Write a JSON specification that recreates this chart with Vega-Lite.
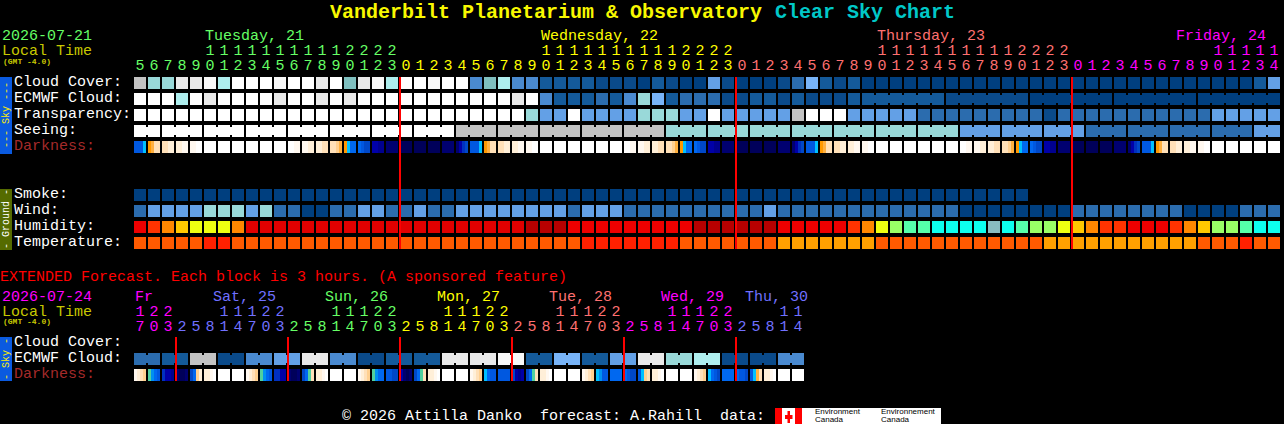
{"$schema":"https://vega.github.io/schema/vega-lite/v6.json","width":1284,"height":424,"padding":0,"autosize":{"type":"fit","contains":"padding"},"background":"#000000","config":{"view":{"stroke":null}},
"datasets":{
"bars":[{"c":-10,"c2":-9.142857,"r":-0.375,"r2":4.4375,"v":"sky"},{"c":-10,"c2":-9.142857,"r":6.625,"r2":10.4375,"v":"ground"},{"c":-10,"c2":-9.142857,"r":15.875,"r2":18.625,"v":"sky"},{"c":45.357143,"c2":57.214286,"r":20.3125,"r2":21.3125,"v":"logo"},{"c":45.357143,"c2":45.857143,"r":20.3125,"r2":21.3125,"v":"flag"},{"c":46.785714,"c2":47.285714,"r":20.3125,"r2":21.3125,"v":"flag"},{"c":46.25,"c2":46.428571,"r":20.5,"r2":21.25,"v":"flag"},{"c":46.071429,"c2":46.607143,"r":20.75,"r2":21,"v":"flag"}],
"rules":[{"c":19,"r":-0.375,"r2":10.375,"v":"mid"},{"c":43,"r":-0.375,"r2":10.375,"v":"mid"},{"c":67,"r":-0.375,"r2":10.375,"v":"mid"},{"c":3,"r":15.875,"r2":18.625,"v":"mid"},{"c":11,"r":15.875,"r2":18.625,"v":"mid"},{"c":19,"r":15.875,"r2":18.625,"v":"mid"},{"c":27,"r":15.875,"r2":18.625,"v":"mid"},{"c":35,"r":15.875,"r2":18.625,"v":"mid"},{"c":43,"r":15.875,"r2":18.625,"v":"mid"}],
"cells":[
{"c":0,"r":0,"v":"c10"},{"c":1,"r":0,"v":"c8"},{"c":2,"r":0,"v":"c8"},{"c":3,"r":0,"v":"c11"},{"c":4,"r":0,"v":"c11"},{"c":5,"r":0,"v":"c12"},{"c":6,"r":0,"v":"c9"},{"c":7,"r":0,"v":"c13"},{"c":8,"r":0,"v":"c13"},{"c":9,"r":0,"v":"c13"},{"c":10,"r":0,"v":"c12"},{"c":11,"r":0,"v":"c13"},{"c":12,"r":0,"v":"c13"},{"c":13,"r":0,"v":"c11"},{"c":14,"r":0,"v":"c13"},{"c":15,"r":0,"v":"c7"},{"c":16,"r":0,"v":"c11"},{"c":17,"r":0,"v":"c12"},{"c":18,"r":0,"v":"c9"},{"c":19,"r":0,"v":"c13"},{"c":20,"r":0,"v":"c13"},{"c":21,"r":0,"v":"c12"},{"c":22,"r":0,"v":"c13"},{"c":23,"r":0,"v":"c13"},{"c":24,"r":0,"v":"c4"},{"c":25,"r":0,"v":"c7"},{"c":26,"r":0,"v":"c9"},{"c":27,"r":0,"v":"c4"},{"c":28,"r":0,"v":"c4"},{"c":29,"r":0,"v":"c2"},{"c":30,"r":0,"v":"c2"},{"c":31,"r":0,"v":"c2"},{"c":32,"r":0,"v":"c2"},{"c":33,"r":0,"v":"c1"},{"c":34,"r":0,"v":"c1"},{"c":35,"r":0,"v":"c1"},{"c":36,"r":0,"v":"c0"},{"c":37,"r":0,"v":"c2"},{"c":38,"r":0,"v":"c1"},{"c":39,"r":0,"v":"c0"},{"c":40,"r":0,"v":"c0"},{"c":41,"r":0,"v":"c5"},{"c":42,"r":0,"v":"c1"},{"c":43,"r":0,"v":"c0"},{"c":44,"r":0,"v":"c0"},{"c":45,"r":0,"v":"c0"},{"c":46,"r":0,"v":"c1"},{"c":47,"r":0,"v":"c3"},{"c":48,"r":0,"v":"c6"},{"c":49,"r":0,"v":"c2"},{"c":50,"r":0,"v":"c1"},{"c":51,"r":0,"v":"c2"},{"c":52,"r":0,"v":"c0"},{"c":53,"r":0,"v":"c0"},{"c":54,"r":0,"v":"c0"},{"c":55,"r":0,"v":"c0"},{"c":56,"r":0,"v":"c0"},{"c":57,"r":0,"v":"c0"},{"c":58,"r":0,"v":"c0"},{"c":59,"r":0,"v":"c0"},{"c":60,"r":0,"v":"c0"},{"c":61,"r":0,"v":"c0"},{"c":62,"r":0,"v":"c0"},{"c":63,"r":0,"v":"c0"},{"c":64,"r":0,"v":"c0"},{"c":65,"r":0,"v":"c0"},{"c":66,"r":0,"v":"c0"},{"c":67,"r":0,"v":"c0"},{"c":68,"r":0,"v":"c0"},{"c":69,"r":0,"v":"c0"},{"c":70,"r":0,"v":"c0"},{"c":71,"r":0,"v":"c0"},{"c":72,"r":0,"v":"c0"},{"c":73,"r":0,"v":"c0"},{"c":74,"r":0,"v":"c0"},{"c":75,"r":0,"v":"c0"},{"c":76,"r":0,"v":"c0"},{"c":77,"r":0,"v":"c0"},{"c":78,"r":0,"v":"c0"},{"c":79,"r":0,"v":"c0"},{"c":80,"r":0,"v":"c2"},{"c":81,"r":0,"v":"c5"},
{"c":0,"r":1,"v":"c13"},{"c":1,"r":1,"v":"c13"},{"c":2,"r":1,"v":"c13"},{"c":3,"r":1,"v":"c9"},{"c":4,"r":1,"v":"c13"},{"c":5,"r":1,"v":"c11"},{"c":6,"r":1,"v":"c13"},{"c":7,"r":1,"v":"c13"},{"c":8,"r":1,"v":"c13"},{"c":9,"r":1,"v":"c13"},{"c":10,"r":1,"v":"c11"},{"c":11,"r":1,"v":"c13"},{"c":12,"r":1,"v":"c13"},{"c":13,"r":1,"v":"c11"},{"c":14,"r":1,"v":"c13"},{"c":15,"r":1,"v":"c11"},{"c":16,"r":1,"v":"c13"},{"c":17,"r":1,"v":"c13"},{"c":18,"r":1,"v":"c13"},{"c":19,"r":1,"v":"c13"},{"c":20,"r":1,"v":"c13"},{"c":21,"r":1,"v":"c13"},{"c":22,"r":1,"v":"c13"},{"c":23,"r":1,"v":"c13"},{"c":24,"r":1,"v":"c13"},{"c":25,"r":1,"v":"c13"},{"c":26,"r":1,"v":"c13"},{"c":27,"r":1,"v":"c11"},{"c":28,"r":1,"v":"c13"},{"c":29,"r":1,"v":"c4"},{"c":30,"r":1,"v":"c2"},{"c":31,"r":1,"v":"c2"},{"c":32,"r":1,"v":"c2"},{"c":33,"r":1,"v":"c3"},{"c":34,"r":1,"v":"c2"},{"c":35,"r":1,"v":"c4"},{"c":36,"r":1,"v":"c8"},{"c":37,"r":1,"v":"c6"},{"c":38,"r":1,"v":"c2"},{"c":39,"r":1,"v":"c3"},{"c":40,"r":1,"v":"c3"},{"c":41,"r":1,"v":"c3"},{"c":42,"r":1,"v":"c1"},{"c":43,"r":1,"v":"c1"},{"c":44,"r":1,"v":"c2"},{"c":45,"r":1,"v":"c2"},{"c":46,"r":1,"v":"c1"},{"c":47,"r":1,"v":"c2"},{"c":48,"r":1,"v":"c1"},{"c":49,"r":1,"v":"c1"},{"c":50,"r":1,"v":"c1"},{"c":51,"r":1,"v":"c2"},
{"c":52,"r":1,"v":"c2","j":1},{"c":53,"r":1,"v":"c2","j":1},{"c":54,"r":1,"v":"c2","j":1},{"c":55,"r":1,"v":"c2","j":1},{"c":56,"r":1,"v":"c2","j":1},{"c":57,"r":1,"v":"c2"},{"c":58,"r":1,"v":"c1","j":1},{"c":59,"r":1,"v":"c1","j":1},{"c":60,"r":1,"v":"c1","j":1},{"c":61,"r":1,"v":"c1","j":1},{"c":62,"r":1,"v":"c1","j":1},{"c":63,"r":1,"v":"c1"},{"c":64,"r":1,"v":"c0","j":1},{"c":65,"r":1,"v":"c0","j":1},{"c":66,"r":1,"v":"c0","j":1},{"c":67,"r":1,"v":"c0","j":1},{"c":68,"r":1,"v":"c0","j":1},{"c":69,"r":1,"v":"c0"},{"c":70,"r":1,"v":"c0","j":1},{"c":71,"r":1,"v":"c0","j":1},{"c":72,"r":1,"v":"c0","j":1},{"c":73,"r":1,"v":"c0","j":1},{"c":74,"r":1,"v":"c0","j":1},{"c":75,"r":1,"v":"c0"},{"c":76,"r":1,"v":"c0","j":1},{"c":77,"r":1,"v":"c0","j":1},{"c":78,"r":1,"v":"c0","j":1},{"c":79,"r":1,"v":"c0","j":1},{"c":80,"r":1,"v":"c0","j":1},{"c":81,"r":1,"v":"c0"},
{"c":0,"r":2,"v":"c13"},{"c":1,"r":2,"v":"c13"},{"c":2,"r":2,"v":"c13"},{"c":3,"r":2,"v":"c13"},{"c":4,"r":2,"v":"c13"},{"c":5,"r":2,"v":"c13"},{"c":6,"r":2,"v":"c13"},{"c":7,"r":2,"v":"c13"},{"c":8,"r":2,"v":"c13"},{"c":9,"r":2,"v":"c13"},{"c":10,"r":2,"v":"c13"},{"c":11,"r":2,"v":"c13"},{"c":12,"r":2,"v":"c13"},{"c":13,"r":2,"v":"c13"},{"c":14,"r":2,"v":"c13"},{"c":15,"r":2,"v":"c13"},{"c":16,"r":2,"v":"c13"},{"c":17,"r":2,"v":"c13"},{"c":18,"r":2,"v":"c13"},{"c":19,"r":2,"v":"c13"},{"c":20,"r":2,"v":"c13"},{"c":21,"r":2,"v":"c13"},{"c":22,"r":2,"v":"c13"},{"c":23,"r":2,"v":"c13"},{"c":24,"r":2,"v":"c13"},{"c":25,"r":2,"v":"c13"},{"c":26,"r":2,"v":"c13"},{"c":27,"r":2,"v":"c13"},{"c":28,"r":2,"v":"c8"},{"c":29,"r":2,"v":"c5"},{"c":30,"r":2,"v":"c5"},{"c":31,"r":2,"v":"c13"},{"c":32,"r":2,"v":"c5"},{"c":33,"r":2,"v":"c5"},{"c":34,"r":2,"v":"c5"},{"c":35,"r":2,"v":"c5"},{"c":36,"r":2,"v":"c8"},{"c":37,"r":2,"v":"c8"},{"c":38,"r":2,"v":"c8"},{"c":39,"r":2,"v":"c5"},{"c":40,"r":2,"v":"c5"},{"c":41,"r":2,"v":"c13"},{"c":42,"r":2,"v":"c5"},{"c":43,"r":2,"v":"c5"},{"c":44,"r":2,"v":"c5"},{"c":45,"r":2,"v":"c5"},{"c":46,"r":2,"v":"c5"},{"c":47,"r":2,"v":"c10"},{"c":48,"r":2,"v":"c13"},{"c":49,"r":2,"v":"c13"},{"c":50,"r":2,"v":"c13"},{"c":51,"r":2,"v":"c5"},{"c":52,"r":2,"v":"c5"},{"c":53,"r":2,"v":"c5"},{"c":54,"r":2,"v":"c5"},{"c":55,"r":2,"v":"c5"},{"c":56,"r":2,"v":"c3"},{"c":57,"r":2,"v":"c3"},{"c":58,"r":2,"v":"c3"},{"c":59,"r":2,"v":"c3"},{"c":60,"r":2,"v":"c3"},{"c":61,"r":2,"v":"c3"},{"c":62,"r":2,"v":"c3"},{"c":63,"r":2,"v":"c3"},{"c":64,"r":2,"v":"c3"},{"c":65,"r":2,"v":"c1"},{"c":66,"r":2,"v":"c3"},{"c":67,"r":2,"v":"c3"},{"c":68,"r":2,"v":"c3"},{"c":69,"r":2,"v":"c3"},{"c":70,"r":2,"v":"c3"},{"c":71,"r":2,"v":"c3"},{"c":72,"r":2,"v":"c3"},{"c":73,"r":2,"v":"c3"},{"c":74,"r":2,"v":"c3"},{"c":75,"r":2,"v":"c3"},{"c":76,"r":2,"v":"c3"},{"c":77,"r":2,"v":"c5"},{"c":78,"r":2,"v":"c5"},{"c":79,"r":2,"v":"c5"},{"c":80,"r":2,"v":"c5"},{"c":81,"r":2,"v":"c5"},
{"c":0,"r":3,"v":"c13","j":1},{"c":1,"r":3,"v":"c13"},{"c":2,"r":3,"v":"c13","j":1},{"c":3,"r":3,"v":"c13","j":1},{"c":4,"r":3,"v":"c13"},{"c":5,"r":3,"v":"c13","j":1},{"c":6,"r":3,"v":"c13","j":1},{"c":7,"r":3,"v":"c13"},{"c":8,"r":3,"v":"c13","j":1},{"c":9,"r":3,"v":"c13","j":1},{"c":10,"r":3,"v":"c13"},{"c":11,"r":3,"v":"c13","j":1},{"c":12,"r":3,"v":"c13","j":1},{"c":13,"r":3,"v":"c13"},{"c":14,"r":3,"v":"c13","j":1},{"c":15,"r":3,"v":"c13","j":1},{"c":16,"r":3,"v":"c13"},{"c":17,"r":3,"v":"c13","j":1},{"c":18,"r":3,"v":"c13","j":1},{"c":19,"r":3,"v":"c13"},{"c":20,"r":3,"v":"c13","j":1},{"c":21,"r":3,"v":"c13","j":1},{"c":22,"r":3,"v":"c13"},{"c":23,"r":3,"v":"c10","j":1},{"c":24,"r":3,"v":"c10","j":1},{"c":25,"r":3,"v":"c10"},{"c":26,"r":3,"v":"c10","j":1},{"c":27,"r":3,"v":"c10","j":1},{"c":28,"r":3,"v":"c10"},{"c":29,"r":3,"v":"c10","j":1},{"c":30,"r":3,"v":"c10","j":1},{"c":31,"r":3,"v":"c10"},{"c":32,"r":3,"v":"c10","j":1},{"c":33,"r":3,"v":"c10","j":1},{"c":34,"r":3,"v":"c10"},{"c":35,"r":3,"v":"c10","j":1},{"c":36,"r":3,"v":"c10","j":1},{"c":37,"r":3,"v":"c10"},{"c":38,"r":3,"v":"c8","j":1},{"c":39,"r":3,"v":"c8","j":1},{"c":40,"r":3,"v":"c8"},{"c":41,"r":3,"v":"c8","j":1},{"c":42,"r":3,"v":"c8","j":1},{"c":43,"r":3,"v":"c8"},{"c":44,"r":3,"v":"c8","j":1},{"c":45,"r":3,"v":"c8","j":1},{"c":46,"r":3,"v":"c8"},{"c":47,"r":3,"v":"c8","j":1},{"c":48,"r":3,"v":"c8","j":1},{"c":49,"r":3,"v":"c8"},{"c":50,"r":3,"v":"c8","j":1},{"c":51,"r":3,"v":"c8","j":1},{"c":52,"r":3,"v":"c8"},{"c":53,"r":3,"v":"c8","j":1},{"c":54,"r":3,"v":"c8","j":1},{"c":55,"r":3,"v":"c8"},{"c":56,"r":3,"v":"c8","j":1},{"c":57,"r":3,"v":"c8","j":1},{"c":58,"r":3,"v":"c8"},{"c":59,"r":3,"v":"c5","j":1},{"c":60,"r":3,"v":"c5","j":1},{"c":61,"r":3,"v":"c5"},{"c":62,"r":3,"v":"c5","j":1},{"c":63,"r":3,"v":"c5","j":1},{"c":64,"r":3,"v":"c5"},{"c":65,"r":3,"v":"c5","j":1},{"c":66,"r":3,"v":"c5","j":1},{"c":67,"r":3,"v":"c5"},{"c":68,"r":3,"v":"c3","j":1},{"c":69,"r":3,"v":"c3","j":1},{"c":70,"r":3,"v":"c3"},{"c":71,"r":3,"v":"c3","j":1},{"c":72,"r":3,"v":"c3","j":1},{"c":73,"r":3,"v":"c3"},{"c":74,"r":3,"v":"c3","j":1},{"c":75,"r":3,"v":"c3","j":1},{"c":76,"r":3,"v":"c3"},{"c":77,"r":3,"v":"c3","j":1},{"c":78,"r":3,"v":"c3","j":1},{"c":79,"r":3,"v":"c3"},{"c":80,"r":3,"v":"c5","j":1},{"c":81,"r":3,"v":"c5"},
{"c":5,"r":4,"v":"d15"},{"c":6,"r":4,"v":"d15"},{"c":7,"r":4,"v":"d15"},{"c":8,"r":4,"v":"d15"},{"c":9,"r":4,"v":"d15"},{"c":10,"r":4,"v":"d15"},{"c":18,"r":4,"v":"d1"},{"c":19,"r":4,"v":"d0"},{"c":20,"r":4,"v":"d0"},{"c":21,"r":4,"v":"d0"},{"c":22,"r":4,"v":"d1"},{"c":29,"r":4,"v":"d15"},{"c":30,"r":4,"v":"d15"},{"c":31,"r":4,"v":"d15"},{"c":32,"r":4,"v":"d15"},{"c":33,"r":4,"v":"d15"},{"c":34,"r":4,"v":"d15"},{"c":42,"r":4,"v":"d1"},{"c":43,"r":4,"v":"d0"},{"c":44,"r":4,"v":"d0"},{"c":45,"r":4,"v":"d0"},{"c":46,"r":4,"v":"d1"},{"c":53,"r":4,"v":"d15"},{"c":54,"r":4,"v":"d15"},{"c":55,"r":4,"v":"d15"},{"c":56,"r":4,"v":"d15"},{"c":57,"r":4,"v":"d15"},{"c":58,"r":4,"v":"d15"},{"c":66,"r":4,"v":"d1"},{"c":67,"r":4,"v":"d0"},{"c":68,"r":4,"v":"d0"},{"c":69,"r":4,"v":"d0"},{"c":70,"r":4,"v":"d1"},{"c":77,"r":4,"v":"d15"},{"c":78,"r":4,"v":"d15"},{"c":79,"r":4,"v":"d15"},{"c":80,"r":4,"v":"d15"},{"c":81,"r":4,"v":"d15"},
{"c":0,"r":7,"v":"c0"},{"c":1,"r":7,"v":"c0"},{"c":2,"r":7,"v":"c0"},{"c":3,"r":7,"v":"c0"},{"c":4,"r":7,"v":"c0"},{"c":5,"r":7,"v":"c0"},{"c":6,"r":7,"v":"c0"},{"c":7,"r":7,"v":"c0"},{"c":8,"r":7,"v":"c0"},{"c":9,"r":7,"v":"c0"},{"c":10,"r":7,"v":"c0"},{"c":11,"r":7,"v":"c0"},{"c":12,"r":7,"v":"c0"},{"c":13,"r":7,"v":"c0"},{"c":14,"r":7,"v":"c0"},{"c":15,"r":7,"v":"c0"},{"c":16,"r":7,"v":"c0"},{"c":17,"r":7,"v":"c0"},{"c":18,"r":7,"v":"c0"},{"c":19,"r":7,"v":"c0"},{"c":20,"r":7,"v":"c0"},{"c":21,"r":7,"v":"c0"},{"c":22,"r":7,"v":"c0"},{"c":23,"r":7,"v":"c0"},{"c":24,"r":7,"v":"c0"},{"c":25,"r":7,"v":"c0"},{"c":26,"r":7,"v":"c0"},{"c":27,"r":7,"v":"c0"},{"c":28,"r":7,"v":"c0"},{"c":29,"r":7,"v":"c0"},{"c":30,"r":7,"v":"c0"},{"c":31,"r":7,"v":"c0"},{"c":32,"r":7,"v":"c0"},{"c":33,"r":7,"v":"c0"},{"c":34,"r":7,"v":"c0"},{"c":35,"r":7,"v":"c0"},{"c":36,"r":7,"v":"c0"},{"c":37,"r":7,"v":"c0"},{"c":38,"r":7,"v":"c0"},{"c":39,"r":7,"v":"c0"},{"c":40,"r":7,"v":"c0"},{"c":41,"r":7,"v":"c0"},{"c":42,"r":7,"v":"c0"},{"c":43,"r":7,"v":"c0"},{"c":44,"r":7,"v":"c0"},{"c":45,"r":7,"v":"c0"},{"c":46,"r":7,"v":"c0"},{"c":47,"r":7,"v":"c0"},{"c":48,"r":7,"v":"c0"},{"c":49,"r":7,"v":"c0"},{"c":50,"r":7,"v":"c0"},{"c":51,"r":7,"v":"c0"},{"c":52,"r":7,"v":"c0"},{"c":53,"r":7,"v":"c0"},{"c":54,"r":7,"v":"c0"},{"c":55,"r":7,"v":"c0"},{"c":56,"r":7,"v":"c0"},{"c":57,"r":7,"v":"c0"},{"c":58,"r":7,"v":"c0"},{"c":59,"r":7,"v":"c0"},{"c":60,"r":7,"v":"c0"},{"c":61,"r":7,"v":"c0"},{"c":62,"r":7,"v":"c0"},{"c":63,"r":7,"v":"c0"},
{"c":0,"r":8,"v":"c3"},{"c":1,"r":8,"v":"c5"},{"c":2,"r":8,"v":"c5"},{"c":3,"r":8,"v":"c5"},{"c":4,"r":8,"v":"c5"},{"c":5,"r":8,"v":"c8"},{"c":6,"r":8,"v":"c8"},{"c":7,"r":8,"v":"c8"},{"c":8,"r":8,"v":"c5"},{"c":9,"r":8,"v":"c8"},{"c":10,"r":8,"v":"c3"},{"c":11,"r":8,"v":"c3"},{"c":12,"r":8,"v":"c0"},{"c":13,"r":8,"v":"c0"},{"c":14,"r":8,"v":"c3"},{"c":15,"r":8,"v":"c3"},{"c":16,"r":8,"v":"c5"},{"c":17,"r":8,"v":"c5"},{"c":18,"r":8,"v":"c3"},{"c":19,"r":8,"v":"c3"},{"c":20,"r":8,"v":"c5"},{"c":21,"r":8,"v":"c3"},{"c":22,"r":8,"v":"c3"},{"c":23,"r":8,"v":"c5"},{"c":24,"r":8,"v":"c5"},{"c":25,"r":8,"v":"c5"},{"c":26,"r":8,"v":"c5"},{"c":27,"r":8,"v":"c5"},{"c":28,"r":8,"v":"c5"},{"c":29,"r":8,"v":"c5"},{"c":30,"r":8,"v":"c5"},{"c":31,"r":8,"v":"c3"},{"c":32,"r":8,"v":"c5"},{"c":33,"r":8,"v":"c5"},{"c":34,"r":8,"v":"c5"},{"c":35,"r":8,"v":"c3"},{"c":36,"r":8,"v":"c3"},{"c":37,"r":8,"v":"c3"},{"c":38,"r":8,"v":"c3"},{"c":39,"r":8,"v":"c3"},{"c":40,"r":8,"v":"c3"},{"c":41,"r":8,"v":"c3"},{"c":42,"r":8,"v":"c3"},{"c":43,"r":8,"v":"c3"},{"c":44,"r":8,"v":"c3"},{"c":45,"r":8,"v":"c5"},{"c":46,"r":8,"v":"c3"},{"c":47,"r":8,"v":"c3"},{"c":48,"r":8,"v":"c3"},{"c":49,"r":8,"v":"c3"},{"c":50,"r":8,"v":"c3"},{"c":51,"r":8,"v":"c3"},{"c":52,"r":8,"v":"c3"},{"c":53,"r":8,"v":"c3"},{"c":54,"r":8,"v":"c3"},{"c":55,"r":8,"v":"c3"},{"c":56,"r":8,"v":"c3"},{"c":57,"r":8,"v":"c3"},{"c":58,"r":8,"v":"c3"},{"c":59,"r":8,"v":"c0"},{"c":60,"r":8,"v":"c0"},{"c":61,"r":8,"v":"c0"},{"c":62,"r":8,"v":"c0"},{"c":63,"r":8,"v":"c0"},{"c":64,"r":8,"v":"c0"},{"c":65,"r":8,"v":"c0"},{"c":66,"r":8,"v":"c0"},{"c":67,"r":8,"v":"c3"},{"c":68,"r":8,"v":"c3"},{"c":69,"r":8,"v":"c3"},{"c":70,"r":8,"v":"c3"},{"c":71,"r":8,"v":"c3"},{"c":72,"r":8,"v":"c3"},{"c":73,"r":8,"v":"c3"},{"c":74,"r":8,"v":"c3"},{"c":75,"r":8,"v":"c0"},{"c":76,"r":8,"v":"c0"},{"c":77,"r":8,"v":"c0"},{"c":78,"r":8,"v":"c0"},{"c":79,"r":8,"v":"c3"},{"c":80,"r":8,"v":"c3"},{"c":81,"r":8,"v":"c3"},
{"c":0,"r":9,"v":"h2"},{"c":1,"r":9,"v":"h3"},{"c":2,"r":9,"v":"h4"},{"c":3,"r":9,"v":"h5"},{"c":4,"r":9,"v":"h6"},{"c":5,"r":9,"v":"h6"},{"c":6,"r":9,"v":"h6"},{"c":7,"r":9,"v":"h4"},{"c":8,"r":9,"v":"h1"},{"c":9,"r":9,"v":"h1"},{"c":10,"r":9,"v":"h1"},{"c":11,"r":9,"v":"h1"},{"c":12,"r":9,"v":"h1"},{"c":13,"r":9,"v":"h1"},{"c":14,"r":9,"v":"h1"},{"c":15,"r":9,"v":"h1"},{"c":16,"r":9,"v":"h1"},{"c":17,"r":9,"v":"h1"},{"c":18,"r":9,"v":"h1"},{"c":19,"r":9,"v":"h1"},{"c":20,"r":9,"v":"h1"},{"c":21,"r":9,"v":"h1"},{"c":22,"r":9,"v":"h1"},{"c":23,"r":9,"v":"h1"},{"c":24,"r":9,"v":"h1"},{"c":25,"r":9,"v":"h1"},{"c":26,"r":9,"v":"h1"},{"c":27,"r":9,"v":"h1"},{"c":28,"r":9,"v":"h0"},{"c":29,"r":9,"v":"h0"},{"c":30,"r":9,"v":"h0"},{"c":31,"r":9,"v":"h2"},{"c":32,"r":9,"v":"h2"},{"c":33,"r":9,"v":"h2"},{"c":34,"r":9,"v":"h2"},{"c":35,"r":9,"v":"h2"},{"c":36,"r":9,"v":"h2"},{"c":37,"r":9,"v":"h2"},{"c":38,"r":9,"v":"h2"},{"c":39,"r":9,"v":"h2"},{"c":40,"r":9,"v":"h0"},{"c":41,"r":9,"v":"h0"},{"c":42,"r":9,"v":"h0"},{"c":43,"r":9,"v":"h0"},{"c":44,"r":9,"v":"h0"},{"c":45,"r":9,"v":"h0"},{"c":46,"r":9,"v":"h2"},{"c":47,"r":9,"v":"h2"},{"c":48,"r":9,"v":"h2"},{"c":49,"r":9,"v":"h2"},{"c":50,"r":9,"v":"h2"},{"c":51,"r":9,"v":"h3"},{"c":52,"r":9,"v":"h4"},{"c":53,"r":9,"v":"h6"},{"c":54,"r":9,"v":"h7"},{"c":55,"r":9,"v":"h8"},{"c":56,"r":9,"v":"h8"},{"c":57,"r":9,"v":"h9"},{"c":58,"r":9,"v":"h9"},{"c":59,"r":9,"v":"h9"},{"c":60,"r":9,"v":"h9"},{"c":61,"r":9,"v":"h10"},{"c":62,"r":9,"v":"h9"},{"c":63,"r":9,"v":"h8"},{"c":64,"r":9,"v":"h7"},{"c":65,"r":9,"v":"h7"},{"c":66,"r":9,"v":"h6"},{"c":67,"r":9,"v":"h5"},{"c":68,"r":9,"v":"h4"},{"c":69,"r":9,"v":"h3"},{"c":70,"r":9,"v":"h3"},{"c":71,"r":9,"v":"h2"},{"c":72,"r":9,"v":"h2"},{"c":73,"r":9,"v":"h2"},{"c":74,"r":9,"v":"h3"},{"c":75,"r":9,"v":"h4"},{"c":76,"r":9,"v":"h5"},{"c":77,"r":9,"v":"h7"},{"c":78,"r":9,"v":"h7"},{"c":79,"r":9,"v":"h8"},{"c":80,"r":9,"v":"h9"},{"c":81,"r":9,"v":"h9"},
{"c":0,"r":10,"v":"t1"},{"c":1,"r":10,"v":"t1"},{"c":2,"r":10,"v":"t1"},{"c":3,"r":10,"v":"t1"},{"c":4,"r":10,"v":"t1"},{"c":5,"r":10,"v":"t2"},{"c":6,"r":10,"v":"t2"},{"c":7,"r":10,"v":"t1"},{"c":8,"r":10,"v":"t1"},{"c":9,"r":10,"v":"t1"},{"c":10,"r":10,"v":"t1"},{"c":11,"r":10,"v":"t1"},{"c":12,"r":10,"v":"t1"},{"c":13,"r":10,"v":"t1"},{"c":14,"r":10,"v":"t1"},{"c":15,"r":10,"v":"t1"},{"c":16,"r":10,"v":"t1"},{"c":17,"r":10,"v":"t1"},{"c":18,"r":10,"v":"t1"},{"c":19,"r":10,"v":"t1"},{"c":20,"r":10,"v":"t1"},{"c":21,"r":10,"v":"t1"},{"c":22,"r":10,"v":"t1"},{"c":23,"r":10,"v":"t1"},{"c":24,"r":10,"v":"t1"},{"c":25,"r":10,"v":"t1"},{"c":26,"r":10,"v":"t1"},{"c":27,"r":10,"v":"t1"},{"c":28,"r":10,"v":"t1"},{"c":29,"r":10,"v":"t1"},{"c":30,"r":10,"v":"t1"},{"c":31,"r":10,"v":"t1"},{"c":32,"r":10,"v":"t2"},{"c":33,"r":10,"v":"t2"},{"c":34,"r":10,"v":"t2"},{"c":35,"r":10,"v":"t2"},{"c":36,"r":10,"v":"t2"},{"c":37,"r":10,"v":"t2"},{"c":38,"r":10,"v":"t2"},{"c":39,"r":10,"v":"t1"},{"c":40,"r":10,"v":"t1"},{"c":41,"r":10,"v":"t1"},{"c":42,"r":10,"v":"t1"},{"c":43,"r":10,"v":"t1"},{"c":44,"r":10,"v":"t1"},{"c":45,"r":10,"v":"t1"},{"c":46,"r":10,"v":"t0"},{"c":47,"r":10,"v":"t0"},{"c":48,"r":10,"v":"t0"},{"c":49,"r":10,"v":"t0"},{"c":50,"r":10,"v":"t0"},{"c":51,"r":10,"v":"t0"},{"c":52,"r":10,"v":"t0"},{"c":53,"r":10,"v":"t1"},{"c":54,"r":10,"v":"t1"},{"c":55,"r":10,"v":"t1"},{"c":56,"r":10,"v":"t1"},{"c":57,"r":10,"v":"t1"},{"c":58,"r":10,"v":"t1"},{"c":59,"r":10,"v":"t1"},{"c":60,"r":10,"v":"t1"},{"c":61,"r":10,"v":"t1"},{"c":62,"r":10,"v":"t1"},{"c":63,"r":10,"v":"t1"},{"c":64,"r":10,"v":"t1"},{"c":65,"r":10,"v":"t0"},{"c":66,"r":10,"v":"t0"},{"c":67,"r":10,"v":"t0"},{"c":68,"r":10,"v":"t0"},{"c":69,"r":10,"v":"t0"},{"c":70,"r":10,"v":"t0"},{"c":71,"r":10,"v":"t0"},{"c":72,"r":10,"v":"t0"},{"c":73,"r":10,"v":"t0"},{"c":74,"r":10,"v":"t0"},{"c":75,"r":10,"v":"t0"},{"c":76,"r":10,"v":"t1"},{"c":77,"r":10,"v":"t1"},{"c":78,"r":10,"v":"t1"},{"c":79,"r":10,"v":"t2"},{"c":80,"r":10,"v":"t1"},{"c":81,"r":10,"v":"t1"},
{"c":0,"r":17.25,"v":"c3","j":1},{"c":1,"r":17.25,"v":"c3"},{"c":2,"r":17.25,"v":"c2","j":1},{"c":3,"r":17.25,"v":"c2"},{"c":4,"r":17.25,"v":"c10","j":1},{"c":5,"r":17.25,"v":"c10"},{"c":6,"r":17.25,"v":"c1","j":1},{"c":7,"r":17.25,"v":"c1"},{"c":8,"r":17.25,"v":"c4","j":1},{"c":9,"r":17.25,"v":"c4"},{"c":10,"r":17.25,"v":"c5","j":1},{"c":11,"r":17.25,"v":"c5"},{"c":12,"r":17.25,"v":"c11","j":1},{"c":13,"r":17.25,"v":"c11"},{"c":14,"r":17.25,"v":"c4","j":1},{"c":15,"r":17.25,"v":"c4"},{"c":16,"r":17.25,"v":"c1","j":1},{"c":17,"r":17.25,"v":"c1"},{"c":18,"r":17.25,"v":"c2","j":1},{"c":19,"r":17.25,"v":"c2"},{"c":20,"r":17.25,"v":"c2","j":1},{"c":21,"r":17.25,"v":"c2"},{"c":22,"r":17.25,"v":"c11","j":1},{"c":23,"r":17.25,"v":"c11"},{"c":24,"r":17.25,"v":"c11","j":1},{"c":25,"r":17.25,"v":"c11"},{"c":26,"r":17.25,"v":"c12","j":1},{"c":27,"r":17.25,"v":"c12"},{"c":28,"r":17.25,"v":"c2","j":1},{"c":29,"r":17.25,"v":"c2"},{"c":30,"r":17.25,"v":"c6","j":1},{"c":31,"r":17.25,"v":"c6"},{"c":32,"r":17.25,"v":"c2","j":1},{"c":33,"r":17.25,"v":"c2"},{"c":34,"r":17.25,"v":"c5","j":1},{"c":35,"r":17.25,"v":"c5"},{"c":36,"r":17.25,"v":"c11","j":1},{"c":37,"r":17.25,"v":"c11"},{"c":38,"r":17.25,"v":"c8","j":1},{"c":39,"r":17.25,"v":"c8"},{"c":40,"r":17.25,"v":"c9","j":1},{"c":41,"r":17.25,"v":"c9"},{"c":42,"r":17.25,"v":"c1","j":1},{"c":43,"r":17.25,"v":"c1"},{"c":44,"r":17.25,"v":"c1","j":1},{"c":45,"r":17.25,"v":"c1"},{"c":46,"r":17.25,"v":"c4","j":1},{"c":47,"r":17.25,"v":"c4"},
{"c":6,"r":18.25,"v":"d15"},{"c":7,"r":18.25,"v":"d15"},{"c":14,"r":18.25,"v":"d15"},{"c":15,"r":18.25,"v":"d15"},{"c":22,"r":18.25,"v":"d15"},{"c":23,"r":18.25,"v":"d15"},{"c":26,"r":18.25,"v":"d6"},{"c":30,"r":18.25,"v":"d15"},{"c":31,"r":18.25,"v":"d15"},{"c":34,"r":18.25,"v":"d7"},{"c":38,"r":18.25,"v":"d15"},{"c":39,"r":18.25,"v":"d15"},{"c":42,"r":18.25,"v":"d7"},{"c":46,"r":18.25,"v":"d15"},{"c":47,"r":18.25,"v":"d15"}
],
"dark":[
{"c":0,"r":4,"s1":"d6","s2":"d6","s3":"d6","s4":"d8"},{"c":1,"r":4,"s1":"d9","s2":"d10","s3":"d12","s4":"d12"},{"c":2,"r":4,"s1":"d12","s2":"d12","s3":"d13","s4":"d13"},{"c":3,"r":4,"s1":"d13","s2":"d13","s3":"d14","s4":"d14"},{"c":4,"r":4,"s1":"d14","s2":"d14","s3":"d15","s4":"d15"},
{"c":11,"r":4,"s1":"d15","s2":"d15","s3":"d14","s4":"d14"},{"c":12,"r":4,"s1":"d14","s2":"d14","s3":"d13","s4":"d13"},{"c":13,"r":4,"s1":"d13","s2":"d13","s3":"d12","s4":"d12"},{"c":14,"r":4,"s1":"d12","s2":"d12","s3":"d11","s4":"d10"},{"c":15,"r":4,"s1":"d9","s2":"d8","s3":"d7","s4":"d7"},{"c":16,"r":4,"s1":"d7","s2":"d6","s3":"d5","s4":"d5"},{"c":17,"r":4,"s1":"d3","s2":"d3","s3":"d2","s4":"d2"},{"c":23,"r":4,"s1":"d1","s2":"d3","s3":"d4","s4":"d5"},
{"c":24,"r":4,"s1":"d6","s2":"d6","s3":"d6","s4":"d8"},{"c":25,"r":4,"s1":"d9","s2":"d10","s3":"d12","s4":"d12"},{"c":26,"r":4,"s1":"d12","s2":"d12","s3":"d13","s4":"d13"},{"c":27,"r":4,"s1":"d13","s2":"d13","s3":"d14","s4":"d14"},{"c":28,"r":4,"s1":"d14","s2":"d14","s3":"d15","s4":"d15"},
{"c":35,"r":4,"s1":"d15","s2":"d15","s3":"d14","s4":"d14"},{"c":36,"r":4,"s1":"d14","s2":"d14","s3":"d13","s4":"d13"},{"c":37,"r":4,"s1":"d13","s2":"d13","s3":"d12","s4":"d12"},{"c":38,"r":4,"s1":"d12","s2":"d12","s3":"d11","s4":"d10"},{"c":39,"r":4,"s1":"d9","s2":"d8","s3":"d7","s4":"d7"},{"c":40,"r":4,"s1":"d7","s2":"d6","s3":"d5","s4":"d5"},{"c":41,"r":4,"s1":"d3","s2":"d3","s3":"d2","s4":"d2"},{"c":47,"r":4,"s1":"d1","s2":"d3","s3":"d4","s4":"d5"},
{"c":48,"r":4,"s1":"d6","s2":"d6","s3":"d6","s4":"d8"},{"c":49,"r":4,"s1":"d9","s2":"d10","s3":"d12","s4":"d12"},{"c":50,"r":4,"s1":"d12","s2":"d12","s3":"d13","s4":"d13"},{"c":51,"r":4,"s1":"d13","s2":"d13","s3":"d14","s4":"d14"},{"c":52,"r":4,"s1":"d14","s2":"d14","s3":"d15","s4":"d15"},
{"c":59,"r":4,"s1":"d15","s2":"d15","s3":"d14","s4":"d14"},{"c":60,"r":4,"s1":"d14","s2":"d14","s3":"d13","s4":"d13"},{"c":61,"r":4,"s1":"d13","s2":"d13","s3":"d12","s4":"d12"},{"c":62,"r":4,"s1":"d12","s2":"d12","s3":"d11","s4":"d10"},{"c":63,"r":4,"s1":"d9","s2":"d8","s3":"d7","s4":"d7"},{"c":64,"r":4,"s1":"d7","s2":"d6","s3":"d5","s4":"d5"},{"c":65,"r":4,"s1":"d3","s2":"d3","s3":"d2","s4":"d2"},{"c":71,"r":4,"s1":"d1","s2":"d3","s3":"d4","s4":"d5"},
{"c":72,"r":4,"s1":"d6","s2":"d6","s3":"d6","s4":"d8"},{"c":73,"r":4,"s1":"d9","s2":"d10","s3":"d12","s4":"d12"},{"c":74,"r":4,"s1":"d12","s2":"d12","s3":"d13","s4":"d13"},{"c":75,"r":4,"s1":"d13","s2":"d13","s3":"d14","s4":"d14"},{"c":76,"r":4,"s1":"d14","s2":"d14","s3":"d15","s4":"d15"},
{"c":0,"r":18.25,"s1":"d14","s2":"d13","s3":"d12","s4":"d11"},{"c":1,"r":18.25,"s1":"d16","s2":"d17","s3":"d7","s4":"d6"},{"c":2,"r":18.25,"s1":"d4","s2":"d3","s3":"d3","s4":"d2"},{"c":3,"r":18.25,"s1":"d1","s2":"d0","s3":"d0","s4":"d1"},{"c":4,"r":18.25,"s1":"d5","s2":"d7","s3":"d11","s4":"d13"},{"c":5,"r":18.25,"s1":"d13","s2":"d13","s3":"d14","s4":"d15"},
{"c":8,"r":18.25,"s1":"d14","s2":"d13","s3":"d12","s4":"d11"},{"c":9,"r":18.25,"s1":"d16","s2":"d17","s3":"d7","s4":"d6"},{"c":10,"r":18.25,"s1":"d4","s2":"d4","s3":"d3","s4":"d3"},{"c":11,"r":18.25,"s1":"d1","s2":"d0","s3":"d0","s4":"d1"},{"c":12,"r":18.25,"s1":"d5","s2":"d7","s3":"d16","s4":"d12"},{"c":13,"r":18.25,"s1":"d13","s2":"d13","s3":"d14","s4":"d15"},
{"c":16,"r":18.25,"s1":"d14","s2":"d13","s3":"d12","s4":"d11"},{"c":17,"r":18.25,"s1":"d16","s2":"d17","s3":"d7","s4":"d7"},{"c":18,"r":18.25,"s1":"d6","s2":"d6","s3":"d5","s4":"d5"},{"c":19,"r":18.25,"s1":"d3","s2":"d1","s3":"d0","s4":"d1"},{"c":20,"r":18.25,"s1":"d5","s2":"d7","s3":"d16","s4":"d12"},{"c":21,"r":18.25,"s1":"d13","s2":"d13","s3":"d14","s4":"d15"},
{"c":24,"r":18.25,"s1":"d14","s2":"d13","s3":"d12","s4":"d11"},{"c":25,"r":18.25,"s1":"d8","s2":"d7","s3":"d6","s4":"d6"},{"c":27,"r":18.25,"s1":"d5","s2":"d3","s3":"d2","s4":"d3"},{"c":28,"r":18.25,"s1":"d5","s2":"d7","s3":"d16","s4":"d12"},{"c":29,"r":18.25,"s1":"d13","s2":"d13","s3":"d14","s4":"d15"},
{"c":32,"r":18.25,"s1":"d14","s2":"d13","s3":"d12","s4":"d11"},{"c":33,"r":18.25,"s1":"d8","s2":"d17","s3":"d6","s4":"d6"},{"c":35,"r":18.25,"s1":"d7","s2":"d6","s3":"d5","s4":"d5"},{"c":36,"r":18.25,"s1":"d6","s2":"d8","s3":"d11","s4":"d12"},{"c":37,"r":18.25,"s1":"d13","s2":"d13","s3":"d14","s4":"d15"},
{"c":40,"r":18.25,"s1":"d14","s2":"d13","s3":"d12","s4":"d11"},{"c":41,"r":18.25,"s1":"d8","s2":"d7","s3":"d6","s4":"d5"},{"c":43,"r":18.25,"s1":"d7","s2":"d6","s3":"d6","s4":"d5"},{"c":44,"r":18.25,"s1":"d6","s2":"d8","s3":"d10","s4":"d12"},{"c":45,"r":18.25,"s1":"d13","s2":"d13","s3":"d14","s4":"d15"}
],
"digits":[
{"c":0,"r":-1,"t":"5","v":"Tue21"},{"c":1,"r":-1,"t":"6","v":"Tue21"},{"c":2,"r":-1,"t":"7","v":"Tue21"},{"c":3,"r":-1,"t":"8","v":"Tue21"},{"c":4,"r":-1,"t":"9","v":"Tue21"},{"c":5,"r":-1,"t":"0","v":"Tue21"},{"c":6,"r":-1,"t":"1","v":"Tue21"},{"c":7,"r":-1,"t":"2","v":"Tue21"},{"c":8,"r":-1,"t":"3","v":"Tue21"},{"c":9,"r":-1,"t":"4","v":"Tue21"},{"c":10,"r":-1,"t":"5","v":"Tue21"},{"c":11,"r":-1,"t":"6","v":"Tue21"},{"c":12,"r":-1,"t":"7","v":"Tue21"},{"c":13,"r":-1,"t":"8","v":"Tue21"},{"c":14,"r":-1,"t":"9","v":"Tue21"},{"c":15,"r":-1,"t":"0","v":"Tue21"},{"c":16,"r":-1,"t":"1","v":"Tue21"},{"c":17,"r":-1,"t":"2","v":"Tue21"},{"c":18,"r":-1,"t":"3","v":"Tue21"},
{"c":19,"r":-1,"t":"0","v":"Wed22"},{"c":20,"r":-1,"t":"1","v":"Wed22"},{"c":21,"r":-1,"t":"2","v":"Wed22"},{"c":22,"r":-1,"t":"3","v":"Wed22"},{"c":23,"r":-1,"t":"4","v":"Wed22"},{"c":24,"r":-1,"t":"5","v":"Wed22"},{"c":25,"r":-1,"t":"6","v":"Wed22"},{"c":26,"r":-1,"t":"7","v":"Wed22"},{"c":27,"r":-1,"t":"8","v":"Wed22"},{"c":28,"r":-1,"t":"9","v":"Wed22"},{"c":29,"r":-1,"t":"0","v":"Wed22"},{"c":30,"r":-1,"t":"1","v":"Wed22"},{"c":31,"r":-1,"t":"2","v":"Wed22"},{"c":32,"r":-1,"t":"3","v":"Wed22"},{"c":33,"r":-1,"t":"4","v":"Wed22"},{"c":34,"r":-1,"t":"5","v":"Wed22"},{"c":35,"r":-1,"t":"6","v":"Wed22"},{"c":36,"r":-1,"t":"7","v":"Wed22"},{"c":37,"r":-1,"t":"8","v":"Wed22"},{"c":38,"r":-1,"t":"9","v":"Wed22"},{"c":39,"r":-1,"t":"0","v":"Wed22"},{"c":40,"r":-1,"t":"1","v":"Wed22"},{"c":41,"r":-1,"t":"2","v":"Wed22"},{"c":42,"r":-1,"t":"3","v":"Wed22"},
{"c":43,"r":-1,"t":"0","v":"Thu23"},{"c":44,"r":-1,"t":"1","v":"Thu23"},{"c":45,"r":-1,"t":"2","v":"Thu23"},{"c":46,"r":-1,"t":"3","v":"Thu23"},{"c":47,"r":-1,"t":"4","v":"Thu23"},{"c":48,"r":-1,"t":"5","v":"Thu23"},{"c":49,"r":-1,"t":"6","v":"Thu23"},{"c":50,"r":-1,"t":"7","v":"Thu23"},{"c":51,"r":-1,"t":"8","v":"Thu23"},{"c":52,"r":-1,"t":"9","v":"Thu23"},{"c":53,"r":-1,"t":"0","v":"Thu23"},{"c":54,"r":-1,"t":"1","v":"Thu23"},{"c":55,"r":-1,"t":"2","v":"Thu23"},{"c":56,"r":-1,"t":"3","v":"Thu23"},{"c":57,"r":-1,"t":"4","v":"Thu23"},{"c":58,"r":-1,"t":"5","v":"Thu23"},{"c":59,"r":-1,"t":"6","v":"Thu23"},{"c":60,"r":-1,"t":"7","v":"Thu23"},{"c":61,"r":-1,"t":"8","v":"Thu23"},{"c":62,"r":-1,"t":"9","v":"Thu23"},{"c":63,"r":-1,"t":"0","v":"Thu23"},{"c":64,"r":-1,"t":"1","v":"Thu23"},{"c":65,"r":-1,"t":"2","v":"Thu23"},{"c":66,"r":-1,"t":"3","v":"Thu23"},
{"c":67,"r":-1,"t":"0","v":"Fri24"},{"c":68,"r":-1,"t":"1","v":"Fri24"},{"c":69,"r":-1,"t":"2","v":"Fri24"},{"c":70,"r":-1,"t":"3","v":"Fri24"},{"c":71,"r":-1,"t":"4","v":"Fri24"},{"c":72,"r":-1,"t":"5","v":"Fri24"},{"c":73,"r":-1,"t":"6","v":"Fri24"},{"c":74,"r":-1,"t":"7","v":"Fri24"},{"c":75,"r":-1,"t":"8","v":"Fri24"},{"c":76,"r":-1,"t":"9","v":"Fri24"},{"c":77,"r":-1,"t":"0","v":"Fri24"},{"c":78,"r":-1,"t":"1","v":"Fri24"},{"c":79,"r":-1,"t":"2","v":"Fri24"},{"c":80,"r":-1,"t":"3","v":"Fri24"},{"c":81,"r":-1,"t":"4","v":"Fri24"},
{"c":5,"r":-1.9375,"t":"1","v":"Tue21"},{"c":6,"r":-1.9375,"t":"1","v":"Tue21"},{"c":7,"r":-1.9375,"t":"1","v":"Tue21"},{"c":8,"r":-1.9375,"t":"1","v":"Tue21"},{"c":9,"r":-1.9375,"t":"1","v":"Tue21"},{"c":10,"r":-1.9375,"t":"1","v":"Tue21"},{"c":11,"r":-1.9375,"t":"1","v":"Tue21"},{"c":12,"r":-1.9375,"t":"1","v":"Tue21"},{"c":13,"r":-1.9375,"t":"1","v":"Tue21"},{"c":14,"r":-1.9375,"t":"1","v":"Tue21"},{"c":15,"r":-1.9375,"t":"2","v":"Tue21"},{"c":16,"r":-1.9375,"t":"2","v":"Tue21"},{"c":17,"r":-1.9375,"t":"2","v":"Tue21"},{"c":18,"r":-1.9375,"t":"2","v":"Tue21"},
{"c":29,"r":-1.9375,"t":"1","v":"Wed22"},{"c":30,"r":-1.9375,"t":"1","v":"Wed22"},{"c":31,"r":-1.9375,"t":"1","v":"Wed22"},{"c":32,"r":-1.9375,"t":"1","v":"Wed22"},{"c":33,"r":-1.9375,"t":"1","v":"Wed22"},{"c":34,"r":-1.9375,"t":"1","v":"Wed22"},{"c":35,"r":-1.9375,"t":"1","v":"Wed22"},{"c":36,"r":-1.9375,"t":"1","v":"Wed22"},{"c":37,"r":-1.9375,"t":"1","v":"Wed22"},{"c":38,"r":-1.9375,"t":"1","v":"Wed22"},{"c":39,"r":-1.9375,"t":"2","v":"Wed22"},{"c":40,"r":-1.9375,"t":"2","v":"Wed22"},{"c":41,"r":-1.9375,"t":"2","v":"Wed22"},{"c":42,"r":-1.9375,"t":"2","v":"Wed22"},
{"c":53,"r":-1.9375,"t":"1","v":"Thu23"},{"c":54,"r":-1.9375,"t":"1","v":"Thu23"},{"c":55,"r":-1.9375,"t":"1","v":"Thu23"},{"c":56,"r":-1.9375,"t":"1","v":"Thu23"},{"c":57,"r":-1.9375,"t":"1","v":"Thu23"},{"c":58,"r":-1.9375,"t":"1","v":"Thu23"},{"c":59,"r":-1.9375,"t":"1","v":"Thu23"},{"c":60,"r":-1.9375,"t":"1","v":"Thu23"},{"c":61,"r":-1.9375,"t":"1","v":"Thu23"},{"c":62,"r":-1.9375,"t":"1","v":"Thu23"},{"c":63,"r":-1.9375,"t":"2","v":"Thu23"},{"c":64,"r":-1.9375,"t":"2","v":"Thu23"},{"c":65,"r":-1.9375,"t":"2","v":"Thu23"},{"c":66,"r":-1.9375,"t":"2","v":"Thu23"},
{"c":77,"r":-1.9375,"t":"1","v":"Fri24"},{"c":78,"r":-1.9375,"t":"1","v":"Fri24"},{"c":79,"r":-1.9375,"t":"1","v":"Fri24"},{"c":80,"r":-1.9375,"t":"1","v":"Fri24"},{"c":81,"r":-1.9375,"t":"1","v":"Fri24"},
{"c":0,"r":15.3125,"t":"7","v":"Fri24"},{"c":1,"r":15.3125,"t":"0","v":"Fri24"},{"c":2,"r":15.3125,"t":"3","v":"Fri24"},
{"c":3,"r":15.3125,"t":"2","v":"Sat25"},{"c":4,"r":15.3125,"t":"5","v":"Sat25"},{"c":5,"r":15.3125,"t":"8","v":"Sat25"},{"c":6,"r":15.3125,"t":"1","v":"Sat25"},{"c":7,"r":15.3125,"t":"4","v":"Sat25"},{"c":8,"r":15.3125,"t":"7","v":"Sat25"},{"c":9,"r":15.3125,"t":"0","v":"Sat25"},{"c":10,"r":15.3125,"t":"3","v":"Sat25"},
{"c":11,"r":15.3125,"t":"2","v":"Sun26"},{"c":12,"r":15.3125,"t":"5","v":"Sun26"},{"c":13,"r":15.3125,"t":"8","v":"Sun26"},{"c":14,"r":15.3125,"t":"1","v":"Sun26"},{"c":15,"r":15.3125,"t":"4","v":"Sun26"},{"c":16,"r":15.3125,"t":"7","v":"Sun26"},{"c":17,"r":15.3125,"t":"0","v":"Sun26"},{"c":18,"r":15.3125,"t":"3","v":"Sun26"},
{"c":19,"r":15.3125,"t":"2","v":"Mon27"},{"c":20,"r":15.3125,"t":"5","v":"Mon27"},{"c":21,"r":15.3125,"t":"8","v":"Mon27"},{"c":22,"r":15.3125,"t":"1","v":"Mon27"},{"c":23,"r":15.3125,"t":"4","v":"Mon27"},{"c":24,"r":15.3125,"t":"7","v":"Mon27"},{"c":25,"r":15.3125,"t":"0","v":"Mon27"},{"c":26,"r":15.3125,"t":"3","v":"Mon27"},
{"c":27,"r":15.3125,"t":"2","v":"Tue28"},{"c":28,"r":15.3125,"t":"5","v":"Tue28"},{"c":29,"r":15.3125,"t":"8","v":"Tue28"},{"c":30,"r":15.3125,"t":"1","v":"Tue28"},{"c":31,"r":15.3125,"t":"4","v":"Tue28"},{"c":32,"r":15.3125,"t":"7","v":"Tue28"},{"c":33,"r":15.3125,"t":"0","v":"Tue28"},{"c":34,"r":15.3125,"t":"3","v":"Tue28"},
{"c":35,"r":15.3125,"t":"2","v":"Wed29"},{"c":36,"r":15.3125,"t":"5","v":"Wed29"},{"c":37,"r":15.3125,"t":"8","v":"Wed29"},{"c":38,"r":15.3125,"t":"1","v":"Wed29"},{"c":39,"r":15.3125,"t":"4","v":"Wed29"},{"c":40,"r":15.3125,"t":"7","v":"Wed29"},{"c":41,"r":15.3125,"t":"0","v":"Wed29"},{"c":42,"r":15.3125,"t":"3","v":"Wed29"},
{"c":43,"r":15.3125,"t":"2","v":"Thu30"},{"c":44,"r":15.3125,"t":"5","v":"Thu30"},{"c":45,"r":15.3125,"t":"8","v":"Thu30"},{"c":46,"r":15.3125,"t":"1","v":"Thu30"},{"c":47,"r":15.3125,"t":"4","v":"Thu30"},
{"c":0,"r":14.375,"t":"1","v":"Fri24"},{"c":1,"r":14.375,"t":"2","v":"Fri24"},{"c":2,"r":14.375,"t":"2","v":"Fri24"},
{"c":6,"r":14.375,"t":"1","v":"Sat25"},{"c":7,"r":14.375,"t":"1","v":"Sat25"},{"c":8,"r":14.375,"t":"1","v":"Sat25"},{"c":9,"r":14.375,"t":"2","v":"Sat25"},{"c":10,"r":14.375,"t":"2","v":"Sat25"},
{"c":14,"r":14.375,"t":"1","v":"Sun26"},{"c":15,"r":14.375,"t":"1","v":"Sun26"},{"c":16,"r":14.375,"t":"1","v":"Sun26"},{"c":17,"r":14.375,"t":"2","v":"Sun26"},{"c":18,"r":14.375,"t":"2","v":"Sun26"},
{"c":22,"r":14.375,"t":"1","v":"Mon27"},{"c":23,"r":14.375,"t":"1","v":"Mon27"},{"c":24,"r":14.375,"t":"1","v":"Mon27"},{"c":25,"r":14.375,"t":"2","v":"Mon27"},{"c":26,"r":14.375,"t":"2","v":"Mon27"},
{"c":30,"r":14.375,"t":"1","v":"Tue28"},{"c":31,"r":14.375,"t":"1","v":"Tue28"},{"c":32,"r":14.375,"t":"1","v":"Tue28"},{"c":33,"r":14.375,"t":"2","v":"Tue28"},{"c":34,"r":14.375,"t":"2","v":"Tue28"},
{"c":38,"r":14.375,"t":"1","v":"Wed29"},{"c":39,"r":14.375,"t":"1","v":"Wed29"},{"c":40,"r":14.375,"t":"1","v":"Wed29"},{"c":41,"r":14.375,"t":"2","v":"Wed29"},{"c":42,"r":14.375,"t":"2","v":"Wed29"},
{"c":46,"r":14.375,"t":"1","v":"Thu30"},{"c":47,"r":14.375,"t":"1","v":"Thu30"}
],
"labels":[
{"c":-9,"r":0,"t":"Cloud Cover:","v":"label"},{"c":-9,"r":1,"t":"ECMWF Cloud:","v":"label"},{"c":-9,"r":2,"t":"Transparency:","v":"label"},{"c":-9,"r":3,"t":"Seeing:","v":"label"},{"c":-9,"r":4,"t":"Darkness:","v":"darklabel"},
{"c":-9,"r":7,"t":"Smoke:","v":"label"},{"c":-9,"r":8,"t":"Wind:","v":"label"},{"c":-9,"r":9,"t":"Humidity:","v":"label"},{"c":-9,"r":10,"t":"Temperature:","v":"label"},
{"c":-9,"r":16.25,"t":"Cloud Cover:","v":"label"},{"c":-9,"r":17.25,"t":"ECMWF Cloud:","v":"label"},{"c":-9,"r":18.25,"t":"Darkness:","v":"darklabel"},
{"c":-9.857,"r":-2.875,"t":"2026-07-21","v":"Tue21"},{"c":-9.857,"r":-1.9375,"t":"Local Time","v":"local"},
{"c":4.643,"r":-2.875,"t":"Tuesday, 21","v":"Tue21"},{"c":28.643,"r":-2.875,"t":"Wednesday, 22","v":"Wed22"},{"c":52.643,"r":-2.875,"t":"Thursday, 23","v":"Thu23"},{"c":74,"r":-2.875,"t":"Friday, 24","v":"Fri24"},
{"c":-10,"r":12.1875,"t":"EXTENDED Forecast. Each block is 3 hours. (A sponsored feature)","v":"ext"},
{"c":-9.857,"r":13.4375,"t":"2026-07-24","v":"Fri24"},{"c":-9.857,"r":14.375,"t":"Local Time","v":"local"},
{"c":-0.357,"r":13.4375,"t":"Fr","v":"Fri24"},{"c":5.214,"r":13.4375,"t":"Sat, 25","v":"Sat25"},{"c":13.214,"r":13.4375,"t":"Sun, 26","v":"Sun26"},{"c":21.214,"r":13.4375,"t":"Mon, 27","v":"Mon27"},{"c":29.214,"r":13.4375,"t":"Tue, 28","v":"Tue28"},{"c":37.214,"r":13.4375,"t":"Wed, 29","v":"Wed29"},{"c":43.214,"r":13.4375,"t":"Thu, 30","v":"Thu30"},
{"c":14.429,"r":20.875,"t":"© 2026 Attilla Danko\u00a0\u00a0forecast: A.Rahill\u00a0\u00a0data:","v":"label"}
]
},
"encoding":{
"x":{"field":"c","type":"quantitative","axis":null,"scale":{"domain":[-10,81.71428571428571],"nice":false,"zero":false}},
"y":{"field":"r","type":"quantitative","axis":null,"scale":{"domain":[-5.1875,21.3125],"reverse":true,"nice":false,"zero":false}},
"color":{"field":"v","type":"nominal","legend":null,"scale":{"domain":["c0","c1","c2","c3","c4","c5","c6","c7","c8","c9","c10","c11","c12","c13","h0","h1","h2","h3","h4","h5","h6","h7","h8","h9","h10","t0","t1","t2","d0","d1","d2","d3","d4","d5","d6","d7","d8","d9","d10","d11","d12","d13","d14","d15","d16","d17","Tue21","Wed22","Thu23","Fri24","Sat25","Sun26","Mon27","Tue28","Wed29","Thu30","label","darklabel","title","clear","local","ext","sky","ground","skytext","groundtext","mid","flag","logo","logotext"],
"range":["#003f7f","#0a4a8a","#145a9a","#2b6cae","#4a8ad0","#63a0e6","#78b4f8","#7fbfbf","#99d9d9","#aeeeee","#c3c3c3","#e9e9e9","#f8f8f8","#ffffff","#b80000","#e20000","#ee0000","#ff3300","#ff8800","#ffc800","#eeff11","#99ff66","#55ffaa","#0dffee","#88bcc0","#ffa000","#ff5a00","#ff2000","#00005a","#000070","#00008f","#0000a8","#0030c0","#0048c8","#0058e0","#0068f0","#00c0ff","#ff9900","#ffb040","#ffd090","#ffe0b8","#ffefd8","#fff8f0","#ffffff","#50d0a0","#0090f0","#66ff66","#ffff00","#ff7070","#ff00ff","#7070ff","#66ff66","#ffff00","#ff7070","#ff00ff","#7070ff","#ffffff","#a52a2a","#f8f800","#00c8c8","#c8c800","#ff0000","#0a5ae0","#556b00","#ffee00","#ffffff","#ff0000","#ff0000","#ffffff","#000000"]}}
},
"layer":[
{"data":{"name":"bars"},"mark":{"type":"rect"},"encoding":{"x2":{"field":"c2"},"y2":{"field":"r2"}}},
{"data":{"name":"cells"},"mark":{"type":"rect","width":12,"height":12}},
{"data":{"name":"cells"},"transform":[{"filter":"datum.j===1"}],"mark":{"type":"rect","width":2,"height":8,"xOffset":7}},
{"data":{"name":"dark"},"transform":[{"fold":["s1","s2","s3","s4"],"as":["k","v"]},{"filter":"datum.k==='s1'"}],"mark":{"type":"rect","width":3,"height":12,"xOffset":-4.5}},
{"data":{"name":"dark"},"transform":[{"fold":["s1","s2","s3","s4"],"as":["k","v"]},{"filter":"datum.k==='s2'"}],"mark":{"type":"rect","width":3,"height":12,"xOffset":-1.5}},
{"data":{"name":"dark"},"transform":[{"fold":["s1","s2","s3","s4"],"as":["k","v"]},{"filter":"datum.k==='s3'"}],"mark":{"type":"rect","width":3,"height":12,"xOffset":1.5}},
{"data":{"name":"dark"},"transform":[{"fold":["s1","s2","s3","s4"],"as":["k","v"]},{"filter":"datum.k==='s4'"}],"mark":{"type":"rect","width":3,"height":12,"xOffset":4.5}},
{"data":{"name":"rules"},"mark":{"type":"rule","strokeWidth":2,"xOffset":-6},"encoding":{"y2":{"field":"r2"}}},
{"data":{"name":"labels"},"mark":{"type":"text","font":"Liberation Mono","fontSize":15,"align":"left","baseline":"middle","dy":-2},"encoding":{"text":{"field":"t","type":"nominal"}}},
{"data":{"name":"digits"},"mark":{"type":"text","font":"Liberation Mono","fontSize":15,"align":"center","baseline":"middle","dy":-2},"encoding":{"text":{"field":"t","type":"nominal"}}},
{"data":{"values":[{"c":13.571,"r":-4.4375,"t":"Vanderbilt Planetarium & Observatory","v":"title"},{"c":45.357,"r":-4.4375,"t":"Clear Sky Chart","v":"clear"}]},"mark":{"type":"text","font":"Liberation Mono","fontSize":20,"fontWeight":"bold","align":"left","baseline":"middle"},"encoding":{"text":{"field":"t","type":"nominal"}}},
{"data":{"values":[{"c":-9.786,"r":-1.3125,"t":"(GMT -4.0)","v":"local"},{"c":-9.786,"r":14.9375,"t":"(GMT -4.0)","v":"local"}]},"mark":{"type":"text","font":"Liberation Mono","fontSize":8,"fontWeight":"bold","align":"left","baseline":"middle"},"encoding":{"text":{"field":"t","type":"nominal"}}},
{"data":{"values":[{"c":-9.571,"r":2,"t":"--- Sky ---","v":"skytext"},{"c":-9.571,"r":8.5,"t":"- Ground -","v":"groundtext"},{"c":-9.571,"r":17.25,"t":"- Sky -","v":"skytext"}]},"mark":{"type":"text","font":"Liberation Mono","fontSize":10,"angle":270,"align":"center","baseline":"middle"},"encoding":{"text":{"field":"t","type":"nominal"}}},
{"data":{"values":[{"c":48.214,"r":20.5625,"t":"Environment","v":"logotext"},{"c":48.214,"r":21.0625,"t":"Canada","v":"logotext"},{"c":52.93,"r":20.5625,"t":"Environnement","v":"logotext"},{"c":52.93,"r":21.0625,"t":"Canada","v":"logotext"}]},"mark":{"type":"text","font":"Liberation Sans","fontSize":8,"align":"left","baseline":"middle"},"encoding":{"text":{"field":"t","type":"nominal"}}}
]}
